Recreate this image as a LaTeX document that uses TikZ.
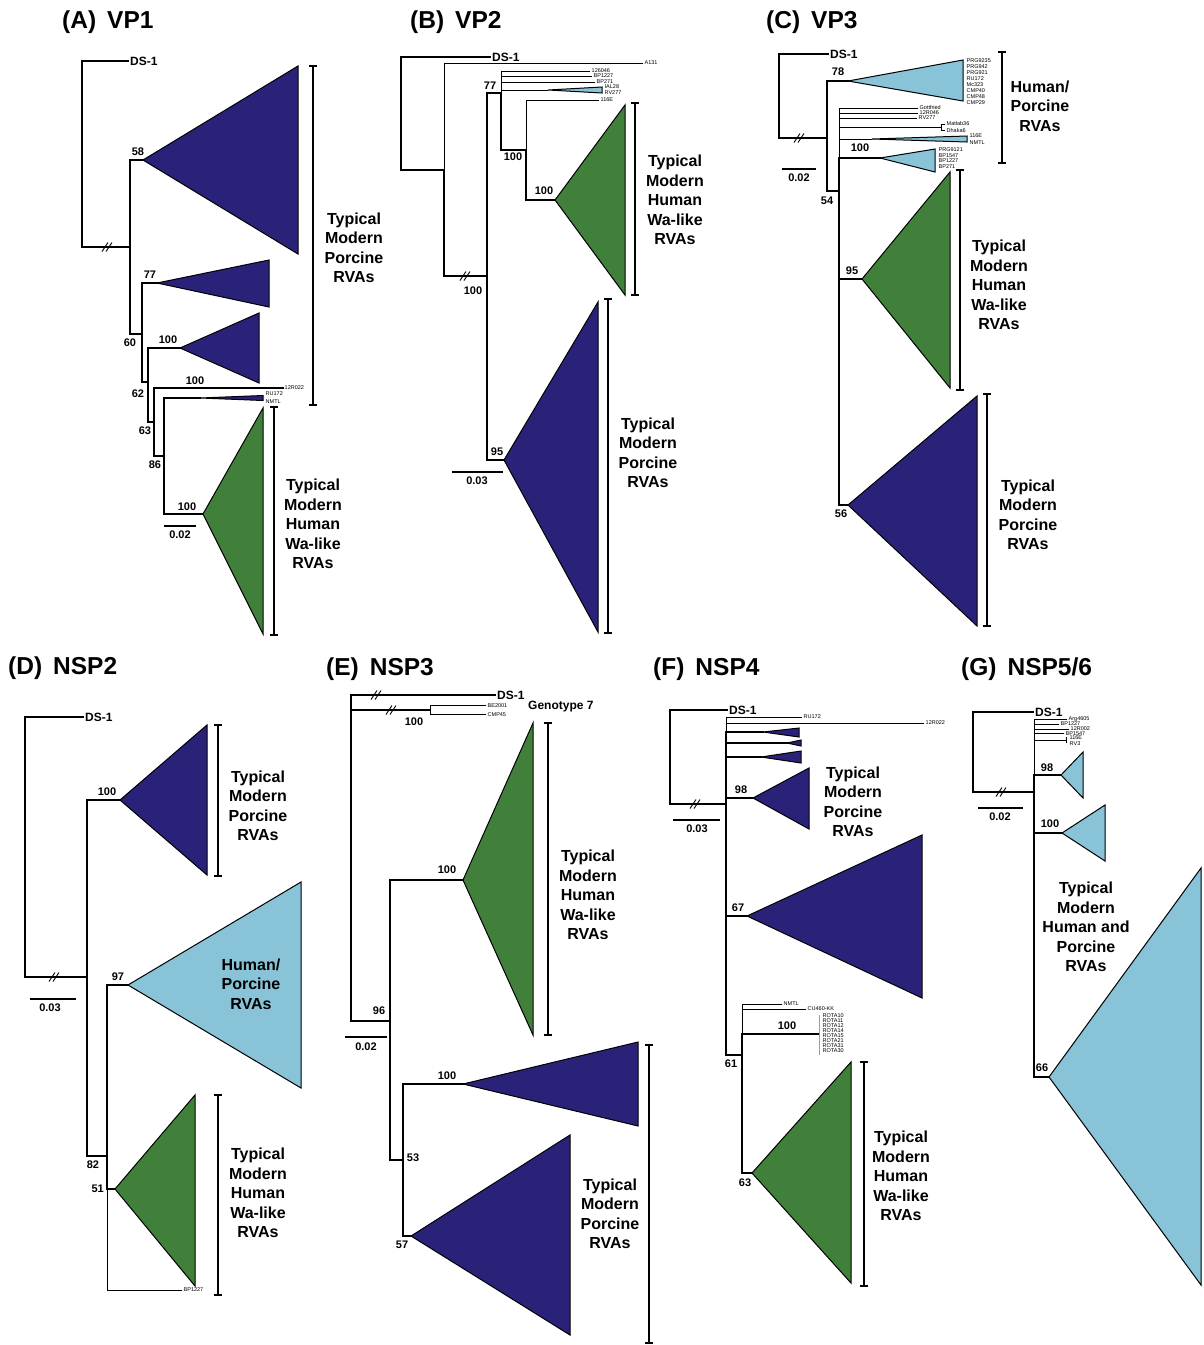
\documentclass[tikz,border=0pt]{standalone}
\usepackage{fontspec}
\setmainfont{Liberation Sans}
\definecolor{cblue}{RGB}{42,34,120}
\definecolor{cgreen}{RGB}{64,128,58}
\definecolor{clight}{RGB}{136,195,216}
\definecolor{cteal}{RGB}{95,184,168}
\newcommand\bracketbar[3]{\draw[brk] (#1-4,#2) -- (#1+4,#2) (#1,#2) -- (#1,#3) (#1-4,#3) -- (#1+4,#3);}
\newcommand\breakmark[2]{\draw[brkm] (#1-6,#2+4.5) -- (#1,#2-4.5) (#1-2,#2+4.5) -- (#1+4,#2-4.5);}
\begin{document}
\begin{tikzpicture}[x=1pt,y=-1pt,
  tree/.style={line width=1.2pt, line cap=rect, line join=miter},
  leaf/.style={line width=0.9pt, line cap=rect, line join=miter},
  tri/.style={draw=black, line width=1pt, line join=miter},
  brk/.style={line width=1.2pt},
  brkm/.style={line width=0.9pt},
  num/.style={font=\bfseries\fontsize{11}{12}\selectfont, inner sep=0pt},
  ttl/.style={font=\bfseries\fontsize{24.5}{27}\selectfont, anchor=west, inner sep=0pt},
  dsl/.style={font=\bfseries\fontsize{12}{13}\selectfont, anchor=west, inner sep=0pt, inner xsep=2pt},
  tiny/.style={font=\fontsize{5.5}{6}\selectfont, anchor=west, inner sep=0pt, inner xsep=1.5pt},
  clab/.style={font=\bfseries\fontsize{16}{19.5}\selectfont, align=center, inner sep=0pt},
]
\useasboundingbox (0,0) rectangle (1203,1345);
\fill[white] (0,0) rectangle (1203,1345);

%% ================= Panel A: VP1 =================
\node[ttl] (At) at (62,22) {(A)\hspace{0.45em}VP1};
\coordinate (A0) at (82,247);
\coordinate (A1) at (130,247);
\coordinate (A2) at (142,334);
\coordinate (A3) at (148,382);
\coordinate (A4) at (154,422);
\coordinate (A5) at (164,456);
\coordinate (A58) at (143,160);
\coordinate (A77) at (157,283);
\coordinate (A100a) at (180,348);
\coordinate (Arn) at (200,398);
\coordinate (A100c) at (203,514);
\node[dsl] (Ads) at (128,61) {DS-1};
\node[tiny] (A12r) at (283,388) {12R022};
\node[tiny] (Aru) at (264,394) {RU172};
\node[tiny] (Anm) at (264,402) {NMTL};
\filldraw[tri, fill=cblue] (A58) -- (298,66) -- (298,254) -- cycle;
\filldraw[tri, fill=cblue] (A77) -- (269,260) -- (269,307) -- cycle;
\filldraw[tri, fill=cblue] (A100a) -- (259,313) -- (259,383) -- cycle;
\filldraw[tri, fill=cblue] (Arn) -- (263,395.5) -- (263,400.5) -- cycle;
\filldraw[tri, fill=cgreen] (A100c) -- (263,408) -- (263,634) -- cycle;
\draw[tree] (A0) |- (Ads.west);
\draw[tree] (A0) -- (A1);
\draw[tree] (A1) |- (A58);
\draw[tree] (A1) |- (A2);
\draw[tree] (A2) |- (A77);
\draw[tree] (A2) |- (A3);
\draw[tree] (A3) |- (A100a);
\draw[tree] (A3) |- (A4);
\draw[tree] (A4) |- (A12r.west);
\draw[tree] (A4) |- (A5);
\draw[tree] (A5) |- (Arn);
\draw[tree] (A5) |- (A100c);
\breakmark{108}{247}
\node[num] (nA58) at (138,152) {58};
\node[num] (nA77) at (150,275) {77};
\node[num] (nA60) at (130,343) {60};
\node[num] (nA100a) at (168,340) {100};
\node[num] (nA62) at (138,394) {62};
\node[num] (nA100b) at (195,381) {100};
\node[num] (nA63) at (145,431) {63};
\node[num] (nA86) at (155,465) {86};
\node[num] (nA100c) at (187,507) {100};
\draw[tree] (165,526) -- (195,526);
\node[num] (sA) at (180,535) {0.02};
\bracketbar{313}{66}{405}
\node[clab] (lA1) at (354,248) {Typical\\Modern\\Porcine\\RVAs};
\bracketbar{274}{407}{635}
\node[clab] (lA2) at (313,524) {Typical\\Modern\\Human\\Wa-like\\RVAs};

%% ================= Panel B: VP2 =================
\node[ttl] (Bt) at (410,22) {(B)\hspace{0.45em}VP2};
\coordinate (B0) at (401,170);
\coordinate (B1) at (444,170);
\coordinate (B2) at (487,276);
\coordinate (B3) at (501,93);
\coordinate (B4) at (526,150);
\coordinate (Bial) at (548,90);
\coordinate (Bg) at (555,200);
\coordinate (B95) at (504,460);
\node[dsl] (Bds) at (490,57) {DS-1};
\node[tiny] (Ba131) at (643,63) {A131};
\node[tiny] (B126) at (590,71) {126046};
\node[tiny] (Bbp1) at (592,76) {BP1227};
\node[tiny] (Bbp2) at (595,82) {BP271};
\node[tiny] (Bial1) at (603,87) {IAL28};
\node[tiny] (Bial2) at (603,93) {RV277};
\node[tiny] (B116) at (599,100) {116E};
\filldraw[tri, fill=clight] (Bial) -- (602,87) -- (602,93) -- cycle;
\filldraw[tri, fill=cgreen] (Bg) -- (625,105) -- (625,295) -- cycle;
\filldraw[tri, fill=cblue] (B95) -- (598,302) -- (598,632) -- cycle;
\draw[tree] (B0) |- (Bds.west);
\draw[tree] (B0) -- (B1);
\draw[leaf] (B1) |- (Ba131.west);
\draw[tree] (B1) |- (B2);
\draw[tree] (B2) |- (B3);
\draw[tree] (B2) |- (B95);
\draw[leaf] (B3) |- (B126.west);
\draw[leaf] (B3) |- (Bbp1.west);
\draw[leaf] (B3) |- (Bbp2.west);
\draw[leaf] (B3) |- (Bial);
\draw[tree] (B3) |- (B4);
\draw[leaf] (B4) |- (B116.west);
\draw[tree] (B4) |- (Bg);
\breakmark{466}{276}
\node[num] (nB77) at (490,86) {77};
\node[num] (nB100a) at (513,157) {100};
\node[num] (nB100b) at (544,191) {100};
\node[num] (nB100c) at (473,291) {100};
\node[num] (nB95) at (497,452) {95};
\draw[tree] (453,472) -- (502,472);
\node[num] (sB) at (477,481) {0.03};
\bracketbar{635}{103}{295}
\node[clab] (lB1) at (675,200) {Typical\\Modern\\Human\\Wa-like\\RVAs};
\bracketbar{608}{299}{633}
\node[clab] (lB2) at (648,453) {Typical\\Modern\\Porcine\\RVAs};

%% ================= Panel C: VP3 =================
\node[ttl] (Ct) at (766,22) {(C)\hspace{0.45em}VP3};
\coordinate (C0) at (779,138);
\coordinate (C1) at (827,138);
\coordinate (C2) at (839,191);
\coordinate (C78) at (848,81);
\coordinate (Cmat) at (941,127);
\coordinate (Cnm) at (872,139);
\coordinate (C100) at (880,158);
\coordinate (C95) at (862,279);
\coordinate (C56) at (848,505);
\node[dsl] (Cds) at (828,54) {DS-1};
\node[tiny] (Cl1) at (965,60.5) {PRG9235};
\node[tiny] (Cl2) at (965,66.5) {PRG942};
\node[tiny] (Cl3) at (965,72.5) {PRG921};
\node[tiny] (Cl4) at (965,78.5) {RU172};
\node[tiny] (Cl5) at (965,84.5) {Mc323};
\node[tiny] (Cl6) at (965,90.5) {CMP40};
\node[tiny] (Cl7) at (965,96.5) {CMP48};
\node[tiny] (Cl8) at (965,102.5) {CMP29};
\node[tiny] (Cgo) at (918,108) {Gottfried};
\node[tiny] (C12) at (918,113) {12R046};
\node[tiny] (Crv) at (917,118) {RV277};
\node[tiny] (Cma1) at (945,124) {Matlab36};
\node[tiny] (Cma2) at (945,131) {Dhaka6};
\node[tiny] (Cnm1) at (968,135.5) {116E};
\node[tiny] (Cnm2) at (968,142.5) {NMTL};
\node[tiny] (Cp1) at (937,150) {PRG9121};
\node[tiny] (Cp2) at (937,155.5) {BP1547};
\node[tiny] (Cp3) at (937,161) {BP1227};
\node[tiny] (Cp4) at (937,166.5) {BP271};
\filldraw[tri, fill=clight] (C78) -- (963,60) -- (963,101) -- cycle;
\filldraw[tri, fill=clight] (Cnm) -- (967,136) -- (967,142) -- cycle;
\filldraw[tri, fill=clight] (C100) -- (935,149) -- (935,172) -- cycle;
\filldraw[tri, fill=cgreen] (C95) -- (950,172) -- (950,388) -- cycle;
\filldraw[tri, fill=cblue] (C56) -- (977,396) -- (977,626) -- cycle;
\draw[tree] (C0) |- (Cds.west);
\draw[tree] (C0) -- (C1);
\draw[tree] (C1) |- (C78);
\draw[tree] (C1) |- (C2);
\draw[leaf] (C2) |- (Cgo.west);
\draw[leaf] (C2) |- (C12.west);
\draw[leaf] (C2) |- (Crv.west);
\draw[leaf] (C2) |- (Cmat);
\draw[leaf] (945,124) -- (941,124) -- (941,130) -- (945,130);
\draw[leaf] (C2) |- (Cnm);
\draw[tree] (C2) |- (C100);
\draw[tree] (C2) |- (C95);
\draw[tree] (C2) |- (C56);
\breakmark{800}{138}
\node[num] (nC78) at (838,72) {78};
\node[num] (nC100) at (860,148) {100};
\node[num] (nC54) at (827,201) {54};
\node[num] (nC95) at (852,271) {95};
\node[num] (nC56) at (841,514) {56};
\draw[tree] (783,169) -- (815,169);
\node[num] (sC) at (799,178) {0.02};
\bracketbar{1002}{52}{163}
\node[clab] (lC1) at (1040,106) {Human/\\Porcine\\RVAs};
\bracketbar{960}{170}{390}
\node[clab] (lC2) at (999,285) {Typical\\Modern\\Human\\Wa-like\\RVAs};
\bracketbar{987}{394}{626}
\node[clab] (lC3) at (1028,515) {Typical\\Modern\\Porcine\\RVAs};

%% ================= Panel D: NSP2 =================
\node[ttl] (Dt) at (8,668) {(D)\hspace{0.45em}NSP2};
\coordinate (D0) at (25,977);
\coordinate (D1) at (87,977);
\coordinate (D2) at (107,1156);
\coordinate (D100) at (120,800);
\coordinate (D97) at (128,985);
\coordinate (D51) at (115,1189);
\node[dsl] (Dds) at (83,717) {DS-1};
\node[tiny] (Dbp) at (182,1290) {BP1227};
\filldraw[tri, fill=cblue] (D100) -- (207,725) -- (207,875) -- cycle;
\filldraw[tri, fill=clight] (D97) -- (301,882) -- (301,1088) -- cycle;
\filldraw[tri, fill=cgreen] (D51) -- (195,1095) -- (195,1286) -- cycle;
\draw[tree] (D0) |- (Dds.west);
\draw[tree] (D0) -- (D1);
\draw[tree] (D1) |- (D100);
\draw[tree] (D1) |- (D2);
\draw[tree] (D2) |- (D97);
\draw[tree] (D2) |- (D51);
\draw[leaf] (D2) |- (Dbp.west);
\breakmark{55}{977}
\node[num] (nD100) at (107,792) {100};
\node[num] (nD97) at (118,977) {97};
\node[num] (nD82) at (93,1165) {82};
\node[num, anchor=east] (nD51) at (104,1189) {51};
\draw[tree] (31,999) -- (75,999);
\node[num] (sD) at (50,1008) {0.03};
\node[clab] (lD2) at (251,984) {Human/\\Porcine\\RVAs};
\bracketbar{218}{725}{876}
\node[clab] (lD1) at (258,806) {Typical\\Modern\\Porcine\\RVAs};
\bracketbar{218}{1095}{1295}
\node[clab] (lD3) at (258,1193) {Typical\\Modern\\Human\\Wa-like\\RVAs};

%% ================= Panel E: NSP3 =================
\node[ttl] (Et) at (326,669) {(E)\hspace{0.45em}NSP3};
\coordinate (E0) at (351,1021);
\coordinate (E1) at (430,710);
\coordinate (E2) at (390,1021);
\coordinate (E3) at (403,1160);
\coordinate (E100g) at (463,880);
\coordinate (E100b) at (463,1084);
\coordinate (E57) at (411,1236);
\node[dsl] (Eds) at (495,695) {DS-1};
\node[tiny] (Ebe) at (486,705.5) {BE2001};
\node[tiny] (Ecmp) at (486,714.5) {CMP45};
\node[dsl] (Egen) at (526,707) {Genotype 7};
\filldraw[tri, fill=cgreen] (E100g) -- (533,723) -- (533,1035) -- cycle;
\filldraw[tri, fill=cblue] (E100b) -- (638,1042) -- (638,1126) -- cycle;
\filldraw[tri, fill=cblue] (E57) -- (570,1135) -- (570,1335) -- cycle;
\draw[tree] (E0) |- (Eds.west);
\draw[tree] (E0) |- (E1);
\draw[leaf] (E1) |- (Ebe.west);
\draw[leaf] (E1) |- (Ecmp.west);
\draw[tree] (E0) -- (E2);
\draw[tree] (E2) |- (E100g);
\draw[tree] (E2) |- (E3);
\draw[tree] (E3) |- (E100b);
\draw[tree] (E3) |- (E57);
\breakmark{377}{695}
\breakmark{392}{710}
\node[num] (nE100a) at (414,722) {100};
\node[num] (nE96) at (379,1011) {96};
\node[num] (nE100b) at (447,870) {100};
\node[num] (nE53) at (413,1158) {53};
\node[num] (nE100c) at (447,1076) {100};
\node[num] (nE57) at (402,1245) {57};
\draw[tree] (346,1037) -- (386,1037);
\node[num] (sE) at (366,1047) {0.02};
\bracketbar{548}{723}{1035}
\node[clab] (lE1) at (588,895) {Typical\\Modern\\Human\\Wa-like\\RVAs};
\bracketbar{649}{1045}{1343}
\node[clab] (lE2) at (610,1214) {Typical\\Modern\\Porcine\\RVAs};

%% ================= Panel F: NSP4 =================
\node[ttl] (Ft) at (653,669) {(F)\hspace{0.45em}NSP4};
\coordinate (F0) at (670,804);
\coordinate (F1) at (726,804);
\coordinate (F2) at (742,1055);
\coordinate (Ft1) at (763,732);
\coordinate (Ft2) at (787,743);
\coordinate (Ft3) at (761,757);
\coordinate (F98) at (753,798);
\coordinate (F67) at (747,916);
\coordinate (F63) at (752,1173);
\coordinate (Frota) at (819,1034);
\node[dsl] (Fds) at (727,710) {DS-1};
\node[tiny] (Fru) at (802,717) {RU172};
\node[tiny] (F12) at (924,723) {12R022};
\node[tiny] (Fnm) at (782,1004) {NMTL};
\node[tiny] (Fcu) at (806,1009) {CU460-KK};
\filldraw[tri, fill=cblue] (Ft1) -- (799,728) -- (799,737) -- cycle;
\filldraw[tri, fill=cblue] (Ft2) -- (801,740) -- (801,746) -- cycle;
\filldraw[tri, fill=cblue] (Ft3) -- (801,751) -- (801,763) -- cycle;
\filldraw[tri, fill=cblue] (F98) -- (809,768) -- (809,829) -- cycle;
\filldraw[tri, fill=cblue] (F67) -- (922,835) -- (922,998) -- cycle;
\filldraw[tri, fill=cgreen] (F63) -- (851,1062) -- (851,1283) -- cycle;
\draw[tree] (F0) |- (Fds.west);
\draw[tree] (F0) -- (F1);
\draw[leaf] (F1) |- (Fru.west);
\draw[leaf] (F1) |- (F12.west);
\draw[tree] (F1) |- (Ft1);
\draw[tree] (F1) |- (Ft2);
\draw[tree] (F1) |- (Ft3);
\draw[tree] (F1) |- (F98);
\draw[tree] (F1) |- (F67);
\draw[tree] (F1) |- (F2);
\draw[leaf] (F2) |- (Fnm.west);
\draw[leaf] (F2) |- (Fcu.west);
\draw[tree] (F2) |- (Frota);
\draw[tree] (F2) |- (F63);
\draw[line width=1pt, cteal] (819,1015) -- (819,1055);
\node[tiny] (Fr1) at (821,1016) {ROTA10};
\node[tiny] (Fr2) at (821,1021) {ROTA11};
\node[tiny] (Fr3) at (821,1026) {ROTA12};
\node[tiny] (Fr4) at (821,1031) {ROTA14};
\node[tiny] (Fr5) at (821,1036) {ROTA15};
\node[tiny] (Fr6) at (821,1041) {ROTA21};
\node[tiny] (Fr7) at (821,1046) {ROTA31};
\node[tiny] (Fr8) at (821,1051) {ROTA30};
\breakmark{696}{804}
\node[num] (nF98) at (741,790) {98};
\node[num] (nF67) at (738,908) {67};
\node[num] (nF61) at (731,1064) {61};
\node[num] (nF100) at (787,1026) {100};
\node[num] (nF63) at (745,1183) {63};
\draw[tree] (674,820) -- (719,820);
\node[num] (sF) at (697,829) {0.03};
\node[clab] (lF1) at (853,802) {Typical\\Modern\\Porcine\\RVAs};
\bracketbar{864}{1062}{1286}
\node[clab] (lF2) at (901,1176) {Typical\\Modern\\Human\\Wa-like\\RVAs};

%% ================= Panel G: NSP5/6 =================
\node[ttl] (Gt) at (961,669) {(G)\hspace{0.45em}NSP5/6};
\coordinate (G0) at (973,792);
\coordinate (G1) at (1034,792);
\coordinate (G98) at (1061,775);
\coordinate (G100) at (1062,833);
\coordinate (G66) at (1049,1077);
\node[dsl] (Gds) at (1033,712) {DS-1};
\node[tiny] (Gl1) at (1067,719) {Arg4605};
\node[tiny] (Gl2) at (1059,724) {BP1227};
\node[tiny] (Gl3) at (1069,729) {12R002};
\node[tiny] (Gl4) at (1064,733.5) {BP1547};
\coordinate (Gl5) at (1066,740);
\node[tiny] (Gl5a) at (1068,738) {116E};
\node[tiny] (Gl5b) at (1068,744) {RV3};
\filldraw[tri, fill=clight] (G98) -- (1083,752) -- (1083,798) -- cycle;
\filldraw[tri, fill=clight] (G100) -- (1105,805) -- (1105,861) -- cycle;
\filldraw[tri, fill=clight] (G66) -- (1201,868) -- (1201,1285) -- cycle;
\draw[tree] (G0) |- (Gds.west);
\draw[tree] (G0) -- (G1);
\draw[leaf] (G1) |- (Gl1.west);
\draw[leaf] (G1) |- (Gl2.west);
\draw[leaf] (G1) |- (Gl3.west);
\draw[leaf] (G1) |- (Gl4.west);
\draw[leaf] (G1) |- (Gl5);
\draw[leaf] (1066,737) -- (1066,743);
\draw[tree] (G1) |- (G98);
\draw[tree] (G1) |- (G100);
\draw[tree] (G1) |- (G66);
\breakmark{1002}{792}
\node[num] (nG98) at (1047,768) {98};
\node[num] (nG100) at (1050,824) {100};
\node[num] (nG66) at (1042,1068) {66};
\draw[tree] (979,808) -- (1022,808);
\node[num] (sG) at (1000,817) {0.02};
\node[clab] (lG1) at (1086,927) {Typical\\Modern\\Human and\\Porcine\\RVAs};
\end{tikzpicture}
\end{document}
